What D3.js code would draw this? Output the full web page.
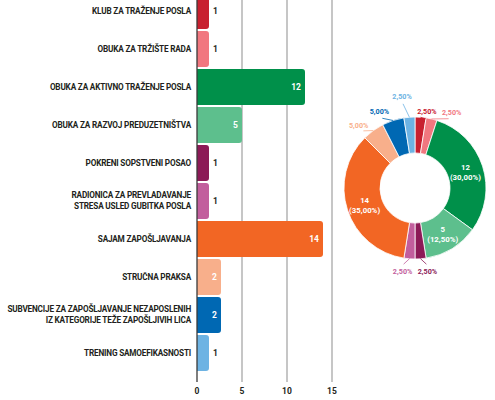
<!DOCTYPE html>
<html>
<head>
<meta charset="utf-8">
<script src="https://cdn.jsdelivr.net/npm/d3@7"></script>
<style>
  body { margin: 0; background: #fff; }
  text { font-family: Roboto, "Open Sans", sans-serif; }
</style>
</head>
<body>
<svg id="chart" width="495" height="400"></svg>
<script>
// data
var categories = [
    "KLUB ZA TRAŽENJE POSLA",
    "OBUKA ZA TRŽIŠTE RADA",
    "OBUKA ZA AKTIVNO TRAŽENJE POSLA",
    "OBUKA ZA RAZVOJ PREDUZETNIŠTVA",
    "POKRENI SOPSTVENI POSAO",
    "RADIONICA ZA PREVLADAVANJE\nSTRESA USLED GUBITKA POSLA",
    "SAJAM ZAPOŠLJAVANJA",
    "STRUČNA PRAKSA",
    "SUBVENCIJE ZA ZAPOŠLJAVANJE NEZAPOSLENIH\nIZ KATEGORIJE TEŽE ZAPOŠLJIVIH LICA",
    "TRENING SAMOEFIKASNOSTI"
];
var values = [1, 1, 12, 5, 1, 1, 14, 2, 2, 1];
var colors = ["#c8202f", "#f1777f", "#00904a", "#5dbf8d", "#8c1a57",
              "#c25e9d", "#f26624", "#f8af8b", "#0068b3", "#6db3e3"];
var xTicks = [0, 5, 10, 15];

(function () {
    'use strict';

    var svg = d3.select('#chart');
    var ink = '#231f20';

    // ---- bar chart ----
    var x = d3.scaleLinear().domain([0, 15]).range([197, 332]);
    var y = d3.scaleBand()
        .domain(d3.range(categories.length))
        .range([-7, 371])
        .paddingInner(0.05);
    var gridBottom = 382;

    svg.append('g').selectAll('line')
        .data(xTicks.filter(function (t) { return t > 0; }))
        .enter().append('line')
        .attr('x1', x).attr('x2', x)
        .attr('y1', 0).attr('y2', gridBottom)
        .attr('stroke', '#a0a0a0')
        .attr('stroke-width', 1.2);

    function barWidth(v) {
        // small bars get a minimum width so their corner / label fits
        return Math.max(x(v) - x(0), v < 2 ? 12 : 24);
    }

    function barPath(v, i) {
        var x0 = x(0), y0 = y(i), w = barWidth(v), h = y.bandwidth(), r = 3;
        return 'M' + x0 + ',' + y0 +
            'H' + (x0 + w - r) +
            'A' + r + ',' + r + ' 0 0 1 ' + (x0 + w) + ',' + (y0 + r) +
            'V' + (y0 + h - r) +
            'A' + r + ',' + r + ' 0 0 1 ' + (x0 + w - r) + ',' + (y0 + h) +
            'H' + x0 + 'Z';
    }

    var bars = svg.append('g');
    bars.selectAll('path')
        .data(values)
        .enter().append('path')
        .attr('d', barPath)
        .attr('fill', function (d, i) { return colors[i]; });

    bars.selectAll('text')
        .data(values)
        .enter().append('text')
        .attr('x', function (d) {
            var end = x(0) + barWidth(d);
            return d >= 2 ? end - 4 : end + 4;
        })
        .attr('y', function (d, i) { return y(i) + y.bandwidth() / 2 + 3; })
        .attr('text-anchor', function (d) { return d >= 2 ? 'end' : 'start'; })
        .attr('fill', function (d) { return d >= 2 ? '#fff' : ink; })
        .attr('font-size', 8.5)
        .attr('font-weight', 'bold')
        .text(function (d) { return d; });

    // category labels
    var labels = svg.append('g').selectAll('text')
        .data(categories)
        .enter().append('text')
        .attr('text-anchor', 'end')
        .attr('fill', ink)
        .attr('font-size', 8.2)
        .attr('letter-spacing', -0.18)
        .attr('font-weight', 'bold');
    labels.each(function (d, i) {
        var lines = d.split('\n');
        var cy = y(i) + y.bandwidth() / 2;
        var lh = 11;
        var t = d3.select(this);
        lines.forEach(function (line, k) {
            t.append('tspan')
                .attr('x', 191)
                .attr('y', cy + 3 + (k - (lines.length - 1) / 2) * lh)
                .text(line);
        });
    });

    // zero axis
    svg.append('line')
        .attr('x1', x(0)).attr('x2', x(0))
        .attr('y1', 0).attr('y2', gridBottom)
        .attr('stroke', '#3a3a3a')
        .attr('stroke-width', 1.3);

    svg.append('g').selectAll('text')
        .data(xTicks)
        .enter().append('text')
        .attr('x', x)
        .attr('y', 394)
        .attr('text-anchor', 'middle')
        .attr('fill', ink)
        .attr('font-size', 8.5)
        .attr('font-weight', 'bold')
        .text(function (d) { return d; });

    // ---- donut ----
    var cx = 415, cy = 188, rIn = 35, rOut = 71;
    var total = d3.sum(values);
    var pct = function (v) { return (v / total * 100).toFixed(2).replace('.', ',') + '%'; };

    var pie = d3.pie().sort(null).value(function (d) { return d; });
    var arcs = pie(values);
    var arc = d3.arc().innerRadius(rIn).outerRadius(rOut);

    var donut = svg.append('g').attr('transform', 'translate(' + cx + ',' + cy + ')');
    donut.selectAll('path')
        .data(arcs)
        .enter().append('path')
        .attr('d', arc)
        .attr('fill', function (d, i) { return colors[i]; })
        .attr('stroke', '#fff')
        .attr('stroke-width', 0.8);

    // big slices: label inside
    var midR = (rIn + rOut) / 2;
    arcs.forEach(function (a, i) {
        if (a.value < 5) return;
        var m = (a.startAngle + a.endAngle) / 2;
        var px = Math.sin(m) * midR, py = -Math.cos(m) * midR;
        var t = donut.append('text')
            .attr('text-anchor', 'middle')
            .attr('fill', '#fff')
            .attr('font-size', 7.8)
            .attr('font-weight', 'bold');
        t.append('tspan').attr('x', px).attr('y', py - 1.5).text(a.value);
        t.append('tspan').attr('x', px).attr('y', py + 8.5).text('(' + pct(a.value) + ')');
    });

    // small slices: label outside, spread apart so they do not overlap
    var outside = arcs.map(function (a, i) {
        var m = (a.startAngle + a.endAngle) / 2;
        var deg = m * 180 / Math.PI;
        if (deg > 270) deg -= 360;
        return { i: i, a: a, mid: m, ang: deg };
    }).filter(function (o) { return o.a.value < 5; })
      .sort(function (p, q) { return p.ang - q.ang; });

    var minSep = 17;
    var groups = outside.map(function (o) { return { items: [o], mean: o.ang }; });
    var merged = true;
    while (merged) {
        merged = false;
        for (var g = 0; g < groups.length - 1; g++) {
            var A = groups[g], B = groups[g + 1];
            var aEnd = A.mean + (A.items.length - 1) / 2 * minSep;
            var bStart = B.mean - (B.items.length - 1) / 2 * minSep;
            if (bStart - aEnd < minSep) {
                var items = A.items.concat(B.items);
                groups.splice(g, 2, { items: items, mean: d3.mean(items, function (o) { return o.ang; }) });
                merged = true;
                break;
            }
        }
    }
    groups.forEach(function (G) {
        G.items.forEach(function (o, k) {
            o.lab = (G.mean + (k - (G.items.length - 1) / 2) * minSep) * Math.PI / 180;
        });
    });

    // labels near 12 o'clock sit close together: stagger them in depth
    outside.forEach(function (o) {
        var deg = o.lab * 180 / Math.PI;
        o.r = 84;
        if (Math.abs(deg) < 12) o.r = deg < 0 ? 92 : 77;
    });

    outside.forEach(function (o) {
        var c = colors[o.i];
        var sx = Math.sin(o.mid) * rOut, sy = -Math.cos(o.mid) * rOut;
        var ex = Math.sin(o.lab) * (o.r - 7), ey = -Math.cos(o.lab) * (o.r - 7);
        donut.append('line')
            .attr('x1', sx).attr('y1', sy)
            .attr('x2', ex).attr('y2', ey)
            .attr('stroke', c)
            .attr('stroke-width', 0.8);
        donut.append('text')
            .attr('x', Math.sin(o.lab) * o.r)
            .attr('y', -Math.cos(o.lab) * o.r + 2.5)
            .attr('text-anchor', 'middle')
            .attr('fill', c)
            .attr('font-size', 7.2)
            .attr('font-weight', 'bold')
            .text(pct(o.a.value));
    });
})();
</script>
</body>
</html>
